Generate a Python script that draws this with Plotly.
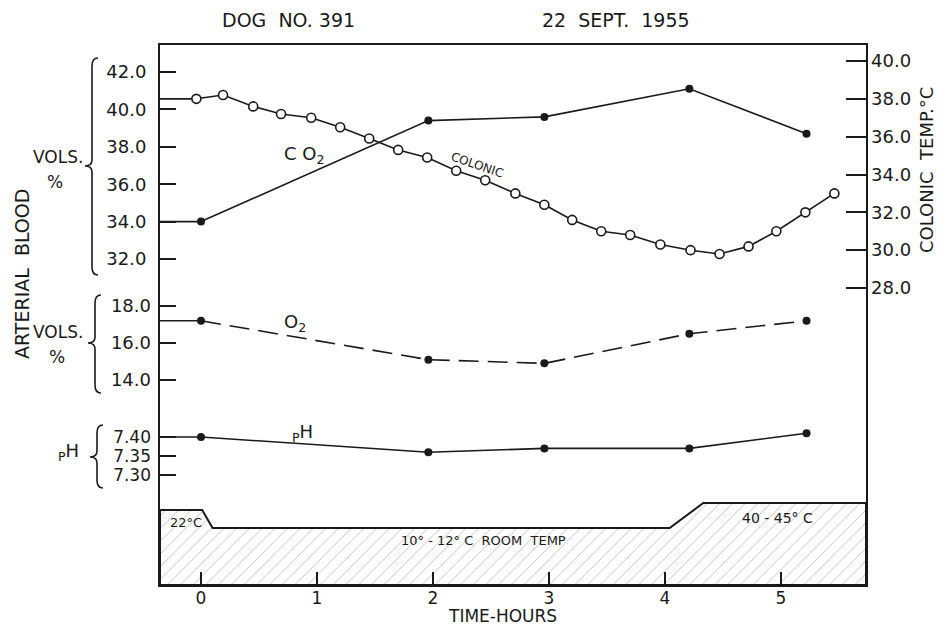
import plotly.graph_objects as go

# ---------------- data ----------------
# arterial blood samples (hours after start)
hours_blood = [0.0, 1.96, 2.96, 4.21, 5.22]
co2_vols = [34.0, 39.4, 39.6, 41.1, 38.7]
o2_vols = [17.2, 15.1, 14.9, 16.5, 17.2]
ph_values = [7.40, 7.36, 7.37, 7.37, 7.41]

# colonic temperature readings
hours_colonic = [-0.04, 0.19, 0.45, 0.69, 0.95, 1.20, 1.45, 1.70, 1.95, 2.20, 2.45, 2.71,
                 2.96, 3.20, 3.45, 3.70, 3.96, 4.22, 4.47, 4.72, 4.96, 5.21, 5.46]
colonic_temp = [38.0, 38.2, 37.6, 37.2, 37.0, 36.5, 35.9, 35.3, 34.9, 34.2, 33.7, 33.0,
                32.4, 31.6, 31.0, 30.8, 30.3, 30.0, 29.8, 30.2, 31.0, 32.0, 33.0]

# tick labels
co2_ticks = [32.0, 34.0, 36.0, 38.0, 40.0, 42.0]
o2_ticks = [14.0, 16.0, 18.0]
ph_ticks = [7.30, 7.35, 7.40]
colonic_ticks = [28.0, 30.0, 32.0, 34.0, 36.0, 38.0, 40.0]
hour_ticks = [0, 1, 2, 3, 4, 5]

# room temperature schedule
room_labels = ["22°C", "10° - 12° C  ROOM  TEMP", "40 - 45° C"]
cooling_start, cooling_end = 0.01, 0.10
warming_start, warming_end = 4.04, 4.33

# ---------------- layout constants ----------------
W, H = 937, 625
L, R, T, B = 160, 866, 45, 585          # plot frame in pixels
X0_PX, PX_PER_HOUR = 201, 116
INK = "#1a1a1a"
FONT = "DejaVu Sans"

x_range = [(L - X0_PX) / PX_PER_HOUR, (R - X0_PX) / PX_PER_HOUR]


def scale_range(v_ref, py_ref, px_per_unit):
    """Axis range so that value v_ref sits at pixel row py_ref."""
    return [v_ref - (B - py_ref) / px_per_unit, v_ref + (py_ref - T) / px_per_unit]


def px(x):
    return (x - L) / (R - L)


def py(y):
    return (B - y) / (B - T)


fig = go.Figure()

# ---- room temperature band (hatched) ----
h_start, h_cold, h_hot = 75, 57, 82
band_x = [x_range[0], x_range[0], cooling_start, cooling_end, warming_start,
          warming_end, x_range[1], x_range[1], x_range[0]]
band_y = [0, h_start, h_start, h_cold, h_cold, h_hot, h_hot, 0, 0]
fig.add_trace(go.Scatter(
    x=band_x, y=band_y, yaxis="y5", mode="lines", fill="toself",
    fillcolor="rgba(0,0,0,0)",
    fillpattern=dict(shape="/", fgcolor="#7a7a7a", bgcolor="white", size=9, solidity=0.1),
    line=dict(color=INK, width=2), hoverinfo="skip"))

# ---- series ----
def series(x, y, axis, dash="solid", open_marker=False):
    # lead-in segment from the axis to the first reading
    fig.add_trace(go.Scatter(x=[x_range[0], x[0]], y=[y[0], y[0]], yaxis=axis, mode="lines",
                             line=dict(color=INK, width=1.6), hoverinfo="skip"))
    marker = dict(size=9, color="white", line=dict(color=INK, width=1.6)) if open_marker \
        else dict(size=8, color=INK)
    fig.add_trace(go.Scatter(x=x, y=y, yaxis=axis, mode="lines+markers",
                             line=dict(color=INK, width=1.6, dash=dash), marker=marker))


series(hours_blood, co2_vols, "y")
series(hours_colonic, colonic_temp, "y4", open_marker=True)
series(hours_blood, o2_vols, "y2", dash="20px,9px")
series(hours_blood, ph_values, "y3")

tickfont = dict(family=FONT, size=18, color=INK)
ycommon = dict(ticks="inside", ticklen=16, tickwidth=2, tickcolor=INK, showgrid=False,
               zeroline=False, tickfont=tickfont, ticklabelstandoff=8, anchor="x")

fig.update_layout(
    width=W, height=H, showlegend=False, hovermode=False,
    paper_bgcolor="white", plot_bgcolor="white",
    margin=dict(l=L, r=W - R, t=T, b=H - B),
    xaxis=dict(range=x_range, tickvals=hour_ticks, ticks="inside", ticklen=13, tickwidth=2,
               tickcolor=INK, showline=True, mirror=True, linecolor=INK, linewidth=2,
               showgrid=False, zeroline=False,
               tickfont=dict(family=FONT, size=17, color=INK), ticklabelstandoff=-3),
    yaxis=dict(range=scale_range(42.0, 72, 18.7), tickvals=co2_ticks, tickformat=".1f",
               showline=True, mirror=True, linecolor=INK, linewidth=2, side="left", **ycommon),
    yaxis2=dict(range=scale_range(18.0, 306, 18.5), tickvals=o2_ticks, tickformat=".1f",
                overlaying="y", side="left", showline=False, **ycommon),
    yaxis3=dict(range=scale_range(7.40, 437, 380), tickvals=ph_ticks, tickformat=".2f",
                overlaying="y", side="left", showline=False,
                **{**ycommon, "tickfont": dict(family=FONT, size=17, color=INK)}),
    yaxis4=dict(range=scale_range(40.0, 61, 18.917), tickvals=colonic_ticks, tickformat=".1f",
                overlaying="y", side="right", showline=False,
                **{**ycommon, "ticklen": 20, "ticklabelstandoff": 4}),
    yaxis5=dict(range=[0, B - T], overlaying="y", visible=False, anchor="x"),
)

# ---- braces on the left ----
def brace(xs, yt, ym, yb):
    xe, xt = xs + 6, xs - 7
    pts = [f"M{px(xe)},{py(yt)}", f"Q{px(xs)},{py(yt)} {px(xs)},{py(yt + 8)}",
           f"L{px(xs)},{py(ym - 6)}", f"Q{px(xs)},{py(ym)} {px(xt)},{py(ym)}",
           f"Q{px(xs)},{py(ym)} {px(xs)},{py(ym + 6)}", f"L{px(xs)},{py(yb - 8)}",
           f"Q{px(xs)},{py(yb)} {px(xe)},{py(yb)}"]
    fig.add_shape(type="path", path=" ".join(pts), xref="paper", yref="paper",
                  line=dict(color=INK, width=1.6))


brace(92, 58, 166, 275)
brace(95, 295, 343, 393)
brace(97, 425, 457, 488)


def label(text, x, y, size=18, angle=0):
    fig.add_annotation(text=text, x=px(x), y=py(y), xref="paper", yref="paper",
                       showarrow=False, textangle=angle, xanchor="center", yanchor="middle",
                       font=dict(family=FONT, size=size, color=INK))


label("DOG  NO. 391", 288, 20, 19)
label("22  SEPT.  1955", 616, 20, 19)
label("ARTERIAL  BLOOD", 22, 274, 19, -90)
label("VOLS.", 58, 157, 17)
label("%", 55, 182, 17)
label("VOLS.", 58, 332, 17)
label("%", 57, 357, 17)
label("<sub>P</sub>H", 68, 452, 18)
label("COLONIC  TEMP.°C", 926, 170, 18, -90)
label("C O<sub>2</sub>", 304, 155, 18)
label("COLONIC", 477, 165, 12, 19)
label("O<sub>2</sub>", 295, 323, 18)
label("<sub>P</sub>H", 302, 433, 18)
label(room_labels[0], 186, 522, 13)
label(room_labels[1], 483, 540, 13)
label(room_labels[2], 777, 518, 14)
label("TIME-HOURS", 502, 616, 17)

fig.write_html("out.html")
